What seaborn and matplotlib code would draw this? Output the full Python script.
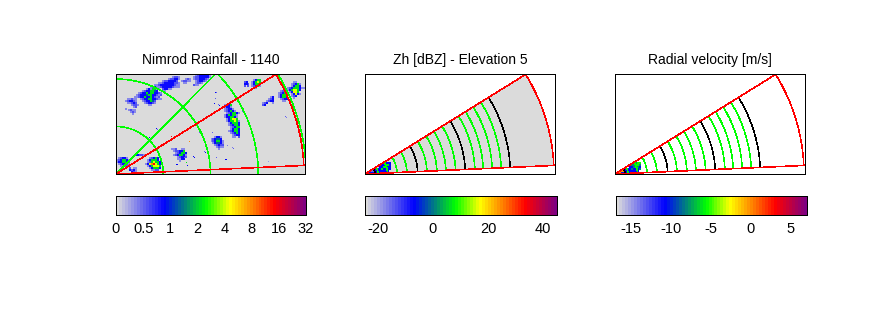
import numpy as np
import matplotlib
matplotlib.use('Agg')
import matplotlib.pyplot as plt
from matplotlib.colors import LinearSegmentedColormap
import seaborn as sns

sns.set_style('white')
plt.rcParams['font.family'] = ['Liberation Sans', 'DejaVu Sans']

# colour table
cmap_pos = [0, 0.25, 0.36, 0.47, 0.60, 0.84, 1]
cmap_col = [(0.86, 0.86, 0.86), (0, 0, 1), (0, 0.5, 0.5), (0, 1, 0), (1, 1, 0), (1, 0, 0), (0.5, 0, 0.5)]
radar = LinearSegmentedColormap.from_list('radar', list(zip(cmap_pos, cmap_col)), N=64)

# rainfall colour scale is not linear
rain_ticks = [0, 0.5, 1, 2, 4, 8, 16, 32]
zh_ticks = [-20, 0, 20, 40]
zh_range = (-24.7, 45.1)
vel_ticks = [-15, -10, -5, 0, 5]
vel_range = (-16.8, 7.0)

# value of each digit in the storm rows below
rain_levels = [0, 0.35, 0.6, 0.85, 1.3, 2.3, 4.6, 8, 16]
zh_levels = [0, -20, -15, -7, 0, 8, 17, 25, 34]
vel_levels = [0, -15, -13, -10.8, -8.2, -5.6, -2.5, -0.1, 3.2]

# sector and range rings, km from the radar
sector_angles = (2.6, 31.8)
sector_range = 189
map_rings = [47.5, 95, 143, 191]
map_ray = 45
green_rings = [13, 22.6, 32, 42, 62, 72, 81, 90.7, 110, 118.3, 127.3, 136.3]
black_rings = [10, 52.7, 100.3, 145.3]

# storms: left edge, top edge (km) and rows of 2 km cells
storm_a = ['........12351..', '......1335531..', '....12335543...', '..123353553321.', '.1233345533212.',
           '1123353353212..', '...12335533211.', '....1233542...', '.....123321...', '.......11.....']
storm_b = ['...........1221.', '.........122331.', '......12233332..', '....11233333221.',
           '..1123333333211.', '...112333332111.', '1..11.23311.....', '......11........']
storm_c = ['..12333331', '.122333331', '.12233321.', '..123321..', '..1221....', '.211......']
storm_d = ['..121', '12211', '.11..']
storm_e = ['.11211.', '123321.', '.11232.', '...1221', '....12.', '1.......']
storm_f = ['1211', '.121', '..1.']
storm_g = ['.12331.', '1235531', '1335532', '.123321', '..1122.']
storm_h = ['2.11', '3231', '.321', '..1.']
storm_i = ['..12353.', '.135553.', '.1256553', '13678653', '.1356665', '..135553', '...1122.']
storm_j = ['112..11..', '.122335..', '..123553.', '.1235531.', '...12332.', '...1133..', '....1....']
storm_k = ['...1331..', '.123443..', '.1235531.', '..134431.', '...12322.', '....1211.', '.....1...']
storm_l = ['..1335....', '..1331....', '..12331...', '..123531..', '...1235531', '..1353551.', '..1335531.',
           '...135665.', '...1355651', '....135553', '....123553', '.....12355', '.....13553', '....123553',
           '.....12353', '......1233', '......11.2']
storm_m = ['...1355.', '..13565.', '2.13553.', '2.12351.', '...11...']
storm_n = ['23', '33', '2.']
storm_o = ['...11...', '..12351.', '..13553.', '123555311', '1356653.', '.13665..', '..13631.', '..123...', '...1....']
storm_p = ['.123.', '12353', '13553', '13553', '.1233', '..11.']
storm_q = ['....13', '...123', '..1233', '123..1', '23....']
storm_r = ['33221']
rain_storms = [storm_a, storm_b, storm_c, storm_d, storm_e, storm_f, storm_g, storm_h, storm_i,
               storm_j, storm_k, storm_l, storm_m, storm_n, storm_o, storm_p, storm_q, storm_r]
storm_left = [18, 34, 75, 65, 9, 12, 0, 13, 29, 55, 93, 105, 132, 129, 172, 163, 147, 19]
storm_top = [88, 98, 100, 96, 76, 65, 17, 7, 17, 26, 38, 70, 95, 93, 93, 84, 78, 20]

# isolated pixels
spot_x = [100, 101, 100, 99, 103, 104, 55, 73, 40, 41, 38, 33, 34, 110, 111, 101, 77, 78, 83, 88, 89, 70, 60, 61, 117, 118, 127, 170, 171, 153, 150, 97, 112, 68, 71]
spot_y = [81, 81, 75, 70, 69, 68, 37, 32, 45, 44, 37, 36, 35, 14, 14, 16, 17, 16, 41, 22, 21, 11, 9, 9, 26, 25, 62, 57, 56, 12, 69, 41, 28, 16, 8]
spot_v = [0.9, 0.5, 0.5, 0.9, 0.5, 0.9, 16, 8, 0.9, 0.5, 0.5, 0.9, 0.5, 0.9, 0.9, 0.5, 0.9, 0.9, 0.5, 0.5, 0.9, 2.5, 0.9, 0.9, 0.4, 0.5, 0.5, 0.5, 0.4, 0.3, 0.9, 0.5, 0.4, 0.5, 0.9]

# echoes close to the radar in the two radar panels
zh_echo = ['.........2333', '........33553', '.......335533', '.....33353333', '...223333333.', '.2333333333..']
vel_echo = ['.........4455', '........44554', '.......334543', '.....33343334', '...773333333.', '.8733333333..']
echo_left = 0
echo_top = 12


def paint(grid, rows, left, top, levels):
    for i, row in enumerate(rows):
        for j, c in enumerate(row):
            if c != '.':
                grid[top - 2 * i - 2:top - 2 * i, left + 2 * j:left + 2 * j + 2] = levels[int(c)]


def arc(ax, r, a0, a1, color):
    t = np.radians(np.linspace(a0, a1, 200))
    ax.plot(r * np.cos(t), r * np.sin(t), color=color, lw=0.4, antialiased=False)


def draw_sector(ax):
    a0, a1 = np.radians(sector_angles)
    for a in (a0, a1):
        ax.plot([0, sector_range * np.cos(a)], [0, sector_range * np.sin(a)], color='red', lw=0.4, antialiased=False)
    arc(ax, sector_range, sector_angles[0], sector_angles[1], 'red')


def finish(ax, title):
    ax.set_xlim(0, 190)
    ax.set_ylim(0, 100)
    ax.set_xticks([])
    ax.set_yticks([])
    for s in ax.spines.values():
        s.set_visible(True)
        s.set_color('black')
        s.set_linewidth(0.72)
    ax.set_title(title, fontsize=10, color='black', pad=7.5)


def px_axes(fig, x0, x1, y0, y1):
    return fig.add_axes([x0 / 889, 1 - y1 / 333, (x1 - x0) / 889, (y1 - y0) / 333])


def colorbar(ax, ticks, labels, lo, hi):
    sns.heatmap(np.linspace(0, 1, 64).reshape(1, 64), cmap=radar, vmin=0, vmax=1, cbar=False, ax=ax)
    ax.set_xticks([(v - lo) / (hi - lo) * 64 for v in ticks])
    ax.set_xticklabels(labels, rotation=0, fontsize=10.5, color='black')
    ax.set_yticks([])
    ax.tick_params(axis='x', direction='in', bottom=True, top=True, length=2.5, width=0.72, color='black', pad=5)
    for s in ax.spines.values():
        s.set_visible(True)
        s.set_color('black')
        s.set_linewidth(0.72)


fig = plt.figure(figsize=(8.89, 3.33), dpi=100)

# rainfall map
ax1 = px_axes(fig, 116, 305, 74, 174)
rain = np.zeros((100, 190))
for rows, left, top in zip(rain_storms, storm_left, storm_top):
    paint(rain, rows, left, top, rain_levels)
for x, y, v in zip(spot_x, spot_y, spot_v):
    rain[y, x] = v
rain_pos = np.interp(rain, rain_ticks, np.arange(len(rain_ticks)))
sns.heatmap(rain_pos, cmap=radar, vmin=0, vmax=7, cbar=False, ax=ax1)
for r in map_rings:
    arc(ax1, r, 0, 90, (0, 1, 0))
ax1.plot([0, 200 * np.cos(np.radians(map_ray))], [0, 200 * np.sin(np.radians(map_ray))], color=(0, 1, 0), lw=0.4, antialiased=False)
draw_sector(ax1)
finish(ax1, 'Nimrod Rainfall - 1140')

# reflectivity
ax2 = px_axes(fig, 365, 555, 74, 174)
t = np.radians(np.linspace(sector_angles[0], sector_angles[1], 100))
ax2.fill(np.r_[0, sector_range * np.cos(t)], np.r_[0, sector_range * np.sin(t)], color=(0.86, 0.86, 0.86), lw=0, zorder=0, antialiased=False)
zh = np.full((100, 190), np.nan)
paint(zh, zh_echo, echo_left, echo_top, zh_levels)
sns.heatmap(zh, cmap=radar, vmin=zh_range[0], vmax=zh_range[1], cbar=False, ax=ax2)
for r in green_rings:
    arc(ax2, r, sector_angles[0], sector_angles[1], (0, 1, 0))
for r in black_rings:
    arc(ax2, r, sector_angles[0], sector_angles[1], 'black')
draw_sector(ax2)
finish(ax2, 'Zh [dBZ] - Elevation 5')

# velocity
ax3 = px_axes(fig, 615, 805, 74, 174)
vel = np.full((100, 190), np.nan)
paint(vel, vel_echo, echo_left, echo_top, vel_levels)
sns.heatmap(vel, cmap=radar, vmin=vel_range[0], vmax=vel_range[1], cbar=False, ax=ax3)
for r in green_rings:
    arc(ax3, r, sector_angles[0], sector_angles[1], (0, 1, 0))
for r in black_rings:
    arc(ax3, r, sector_angles[0], sector_angles[1], 'black')
draw_sector(ax3)
finish(ax3, 'Radial velocity [m/s]')

# colour bars
cb1 = px_axes(fig, 116, 306, 196, 215)
colorbar(cb1, range(8), [str(v) for v in rain_ticks], 0, 7)
cb2 = px_axes(fig, 365, 557, 196, 215)
colorbar(cb2, zh_ticks, [str(v) for v in zh_ticks], *zh_range)
cb3 = px_axes(fig, 616, 807, 196, 215)
colorbar(cb3, vel_ticks, [str(v) for v in vel_ticks], *vel_range)

fig.savefig('out.png', dpi=100)
